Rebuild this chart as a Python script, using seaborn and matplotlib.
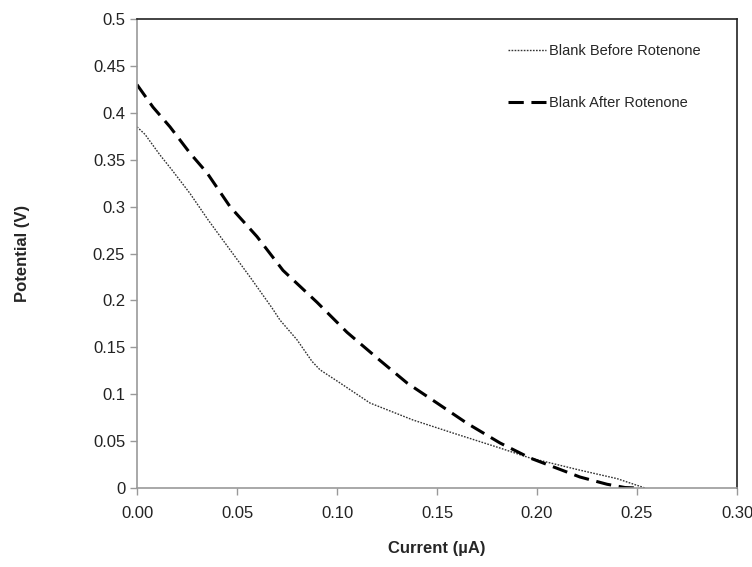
import matplotlib
matplotlib.use("Agg")
import matplotlib.pyplot as plt
import seaborn as sns
import pandas as pd

before_x = [0.0, 0.004, 0.0115, 0.0175, 0.0265, 0.0355, 0.0465, 0.0565, 0.0675, 0.0715,
            0.0800, 0.0875, 0.0915, 0.1015, 0.1165, 0.138, 0.158, 0.1815, 0.1965, 0.2215, 0.240, 0.254]
before_y = [0.385, 0.377, 0.355, 0.339, 0.314, 0.286, 0.254, 0.225, 0.192, 0.179,
            0.158, 0.135, 0.126, 0.112, 0.0906, 0.0725, 0.0586, 0.0426, 0.032, 0.019, 0.010, 0.0]

after_x = [0.0, 0.008, 0.0165, 0.0265, 0.035, 0.0465, 0.06, 0.073, 0.09, 0.105, 0.1215,
           0.135, 0.15, 0.165, 0.1815, 0.1965, 0.2215, 0.235, 0.244, 0.250]
after_y = [0.430, 0.406, 0.385, 0.357, 0.336, 0.300, 0.268, 0.232, 0.198, 0.166, 0.136,
           0.112, 0.0906, 0.069, 0.048, 0.032, 0.0117, 0.004, 0.0005, 0.0]

series_names = ["Blank Before Rotenone", "Blank After Rotenone"]

df = pd.concat([
    pd.DataFrame({"x": before_x, "y": before_y, "s": series_names[0]}),
    pd.DataFrame({"x": after_x, "y": after_y, "s": series_names[1]}),
])

sns.set_theme(style="white")
plt.rcParams["font.family"] = ["Liberation Sans", "DejaVu Sans"]

fig = plt.figure(figsize=(7.52, 5.67), dpi=100)
ax = fig.add_axes([137/752, 1-488/567, 600/752, 469/567])

sns.lineplot(data=df[df.s == series_names[0]], x="x", y="y", sort=False, ax=ax,
             color="#333333", lw=1.0, linestyle=(0, (1.2, 1.0)), label=series_names[0])
sns.lineplot(data=df[df.s == series_names[1]], x="x", y="y", sort=False, ax=ax,
             color="black", lw=2.2, linestyle=(0, (5, 2.5)), label=series_names[1])

ax.set_xlim(0, 0.30)
ax.set_ylim(0, 0.5)
ax.set_xticks([0.0, 0.05, 0.10, 0.15, 0.20, 0.25, 0.30])
ax.set_xticklabels(["0.00", "0.05", "0.10", "0.15", "0.20", "0.25", "0.30"])
ax.set_yticks([0, 0.05, 0.1, 0.15, 0.2, 0.25, 0.3, 0.35, 0.4, 0.45, 0.5])
ax.set_yticklabels(["0", "0.05", "0.1", "0.15", "0.2", "0.25", "0.3", "0.35", "0.4", "0.45", "0.5"])
ax.tick_params(axis="both", labelsize=12, colors="#222222", direction="out", length=5,
               width=1, left=True, bottom=True)
ax.tick_params(axis="both", color="#999999")
ax.tick_params(axis="x", pad=8)
for side in ["left", "bottom"]:
    ax.spines[side].set_color("#999999")
    ax.spines[side].set_linewidth(1.2)
for side in ["top", "right"]:
    ax.spines[side].set_color("#222222")
    ax.spines[side].set_linewidth(1.2)

ax.set_xlabel("Current (µA)", fontsize=12, fontweight="bold", labelpad=14)
ax.set_ylabel("Potential (V)", fontsize=12, fontweight="bold", labelpad=45)

leg = ax.legend(loc="upper right", bbox_to_anchor=(0.962, 0.975), frameon=False,
                fontsize=10.5, handlelength=2.6, handletextpad=0.25, labelspacing=2.6)

fig.savefig("out.png", dpi=100)
